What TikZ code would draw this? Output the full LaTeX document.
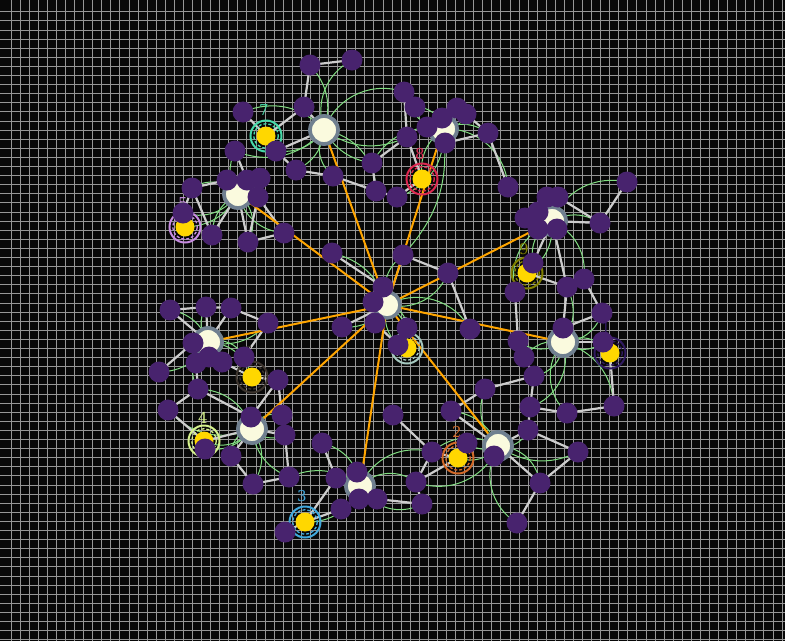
\documentclass[tikz,border=0pt]{standalone}
\usepackage{fontspec}
\newfontfamily\labfont{DejaVu Serif}
\usetikzlibrary{calc}
\definecolor{bgc}{RGB}{8,8,8}
\definecolor{gridc}{RGB}{150,150,150}
\definecolor{pur}{RGB}{72,35,110}
\definecolor{cream}{RGB}{250,250,222}
\definecolor{slate}{RGB}{112,128,144}
\definecolor{goldc}{RGB}{255,215,0}
\definecolor{orc}{RGB}{255,165,0}
\definecolor{edgec}{RGB}{205,205,205}
\definecolor{grc}{RGB}{130,222,130}
\definecolor{r7}{RGB}{70,216,168}
\definecolor{r8}{RGB}{220,40,80}
\definecolor{r5}{RGB}{198,139,224}
\definecolor{r9}{RGB}{128,128,0}
\definecolor{r1}{RGB}{48,26,96}
\definecolor{r6}{RGB}{60,52,45}
\definecolor{r4}{RGB}{212,240,140}
\definecolor{r3}{RGB}{64,168,220}
\definecolor{r2}{RGB}{210,105,40}
\definecolor{r0}{RGB}{166,201,192}
\tikzset{
  pn/.style={circle,fill=pur,minimum size=21pt,inner sep=0pt,draw=none},
  hub/.style={circle,fill=cream,draw=slate,line width=3.8pt,minimum size=28pt,inner sep=0pt},
  chub/.style={circle,fill=cream,draw=slate,line width=3.5pt,minimum size=26pt,inner sep=0pt},
  yn/.style={circle,fill=goldc,minimum size=19pt,inner sep=0pt,draw=none},
  ge/.style={draw=edgec,line width=2.2pt},
  oe/.style={draw=orc,line width=2pt},
  gc/.style={draw=grc,line width=1pt},
  gridline/.style={draw=gridc,line width=0.7pt},
  lab/.style={inner sep=0pt,font=\labfont\fontsize{15}{15}\selectfont}
}
\newcommand{\rings}[3]{%
  \draw[#3,line width=2pt] (#1,#2) circle (15.5);
  \draw[#3,line width=1.3pt,dash pattern=on 3pt off 2pt] (#1,#2) circle (12.3);
}
\begin{document}
\begin{tikzpicture}[x=1pt,y=-1pt]
\useasboundingbox (0,0) rectangle (785,641);
\fill[bgc] (0,0) rectangle (785,641);
\foreach \i in {0,...,85} {\draw[gridline] ({11+9.07*\i},0) -- ({11+9.07*\i},641);}
\foreach \j in {0,...,69} {\draw[gridline] (0,{11.7+9.1*\j}) -- (785,{11.7+9.1*\j});}

\foreach \n/\x/\y in {
 hc/387/305, h1/324/130, h2/443/129, h3/238/194, h4/552/221, h5/208/342, h6/563/342, h7/252/429, h8/360/486, h9/498/446,
 y7/266/136, y8/422/179, y5/185/227, y9/527/273, y1/610/353, y6/252/377, y4/204/441, y3/305/522, y2/458/458, y0/407/348,
 a1/310/65, a2/352/60, a3/304/107, a4/243/112, a5/276/151, a6/296/170, a7/333/176, a8/372/163,
 b1/404/92, b2/415/107, b3/442/118, b4/457/108, b5/466/114, b6/427/127, b7/407/137, b8/445/143, b9/488/133, b10/508/187, b11/397/197, b12/376/191,
 c1/235/151, c2/192/188, c3/227/180, c4/247/180, c5/260/178, c6/258/197, c7/183/213, c8/212/235, c9/248/242, c10/284/233,
 m1/332/253, m2/403/255, m3/448/273, m4/383/287, m5/373/302, m6/342/327, m7/375/323, m8/407/328, m9/398/345, m10/470/329,
 d1/547/197, d2/558/197, d3/525/218, d4/538/212, d5/538/229, d6/557/229, d7/600/223, d8/627/182, d9/533/263, d10/515/292, d11/567/287, d12/584/279,
 f1/602/313, f2/563/328, f3/603/342, f4/518/341, f5/524/357, f6/534/376, f7/530/407, f8/567/413, f9/614/406,
 e1/170/310, e2/206/307, e3/231/308, e4/268/323, e5/193/343, e6/196/363, e7/209/357, e8/222/362, e9/244/357, e10/159/372, e11/198/389, e12/278/380,
 g1/168/410, g2/251/417, g3/282/415, g4/285/435, g5/205/449, g6/231/456, g7/253/484, g8/289/477,
 k1/322/443, k2/357/472, k3/336/478, k4/359/499, k5/377/499, k6/341/509, k7/285/532, k8/416/482, k9/422/504, k10/393/415,
 i1/451/411, i2/485/389, i3/528/430, i4/467/443, i5/494/456, i6/432/452, i7/578/452, i8/540/483, i9/517/523}
 {\coordinate (\n) at (\x,\y);}

% green curves
\foreach \h/\t/\b in {h1/a1/-30, h1/a2/40, h1/b1/45, h1/a4/-35, h1/a6/30, h1/a7/-40, h1/c1/35, h1/b7/-30, h1/b12/40, h1/a8/-25, h1/a5/30,
  h2/b1/35, h2/b2/-40, h2/b4/40, h2/b5/-35, h2/b9/30, h2/b10/45, h2/y8/-30, h2/b11/40, h2/a8/-35, h2/m2/25,
  h3/c1/30, h3/c2/-40, h3/c7/35, h3/c8/-30, h3/c9/40, h3/c10/-35, h3/y5/30, h3/c5/-40, h3/c6/35,
  h4/d1/-30, h4/d2/35, h4/d3/-40, h4/d7/30, h4/d8/40, h4/d9/-35, h4/y9/30, h4/d10/-40, h4/d12/35,
  h5/e1/-30, h5/e2/35, h5/e5/-40, h5/e6/30, h5/e11/-45, h5/e9/40, h5/y6/35, h5/e4/-30, h5/e10/30,
  h6/f1/-35, h6/f2/30, h6/f3/-40, h6/f4/35, h6/f5/-30, h6/f6/40, h6/f8/-45, h6/f9/35, h6/d11/-30, h6/y1/40, h6/f7/45,
  h7/g1/35, h7/g2/-30, h7/g3/40, h7/g4/-35, h7/g5/30, h7/g6/-40, h7/g7/35, h7/g8/-30, h7/y4/40, h7/e11/-35,
  h8/k1/-35, h8/k2/30, h8/k3/-40, h8/k4/35, h8/k5/-30, h8/k8/40, h8/k9/-45, h8/y3/35, h8/g8/-30, h8/i6/40, h8/k6/30,
  h9/i1/-30, h9/i2/35, h9/i3/-40, h9/i4/30, h9/i6/-35, h9/i8/40, h9/i9/-45, h9/y2/35, h9/i7/-30, h9/k8/45,
  hc/m1/-30, hc/m2/35, hc/m3/-40, hc/m6/30, hc/m7/-35, hc/m8/40, hc/m9/-30, hc/m10/45, hc/y0/35}
 {\draw[gc] (\h) to[bend left=\b] (\t);}

% gray edges
\foreach \u/\v in {a1/a2, a1/a3, a3/y7, a3/h1, a4/y7, a5/h1, a5/a6, a6/a7, a7/b12, c1/c4,
  b1/b7, b1/b2, b5/b9, b9/b10, b8/b9, b7/a8, a8/b12, b12/b11, b11/y8, b7/y8, b3/b4,
  c2/c8, c8/h3, h3/c9, c6/c9, c9/c10, c6/c10, c2/c7, c2/c3, c4/c5,
  m1/m4, m2/hc, m2/m3, m6/hc, m7/m9, m3/m10, m4/hc,
  d2/d7, h4/d7, d7/d8, h4/d11, h4/d9, y9/d11, d11/d12, d12/f1, d10/f4, d11/f2, d1/d4,
  f1/f2, f2/h6, f4/f5, f5/f6, f6/f7, y1/f9, f8/f9, f7/f8, f3/h6,
  e1/e2, e2/e3, e3/e4, e1/h5, e2/h5, e3/h5, e4/e9, e10/e5, e11/e6, e11/g2, e11/g1, g1/y4, y6/e12, e12/g3, e8/y6, g2/e12,
  g3/g4, h7/g4, h7/g6, y4/h7, g6/g7, g7/g8, g4/g8, y4/g5,
  k1/k3, y3/k3, y3/k6, k5/k9, k8/k9, k7/y3, k10/i6, k2/h8, k4/h8, i6/k8, k8/y2,
  i1/h9, i3/i7, h9/i3, h9/i8, i8/i9, i7/i8, f7/i3, i6/y2, i2/i1, i2/f6}
 {\draw[ge] (\u) -- (\v);}

% orange spokes
\foreach \h in {h1,h2,h3,h4,h5,h6,h7,h8,h9} {\draw[oe] (hc) -- (\h);}

% hubs
\node[chub] (nhc) at (hc) {};
\foreach \h in {h1,h2,h3,h4,h5,h6,h7,h8,h9} {\node[hub] (n\h) at (\h) {};}

% yellow nodes with rings
\rings{266}{136}{r7}
\rings{422}{179}{r8}
\rings{185}{227}{r5}
\rings{527}{273}{r9}
\rings{610}{353}{r1}
\rings{252}{377}{r6}
\rings{204}{441}{r4}
\rings{305}{522}{r3}
\rings{458}{458}{r2}
\rings{407}{348}{r0}
\foreach \y in {y7,y8,y5,y9,y1,y6,y4,y3,y2,y0} {\node[yn] (n\y) at (\y) {};}

% labels
\node[lab,text=r7] (l7) at (264,110) {7};
\node[lab,text=r8] (l8) at (420,154) {8};
\node[lab,text=r9] (l9) at (524,249) {9};
\node[lab,text=r1] (l1) at (606,328) {1};
\node[lab,text=r4] (l4) at (203,418) {4};
\node[lab,text=r3] (l3) at (302,496) {3};
\node[lab,text=r2] (l2) at (457,432) {2};
\node[lab,text=r5] (l5) at (183,203) {5};
\node[lab,text=r6] (l6) at (248,352) {6};
\node[lab,text=r0] (l0) at (405,323) {0};

% purple nodes
\foreach \p in {a1,a2,a3,a4,a5,a6,a7,a8,b1,b2,b3,b4,b5,b6,b7,b8,b9,b10,b11,b12,
  c1,c2,c3,c4,c5,c6,c7,c8,c9,c10,m1,m2,m3,m4,m5,m6,m7,m8,m9,m10,
  d1,d2,d3,d4,d5,d6,d7,d8,d9,d10,d11,d12,f1,f2,f3,f4,f5,f6,f7,f8,f9,
  e1,e2,e3,e4,e5,e6,e7,e8,e9,e10,e11,e12,g1,g2,g3,g4,g5,g6,g7,g8,
  k1,k2,k3,k4,k5,k6,k7,k8,k9,k10,i1,i2,i3,i4,i5,i6,i7,i8,i9}
 {\node[pn] (n\p) at (\p) {};}
\end{tikzpicture}
\end{document}
